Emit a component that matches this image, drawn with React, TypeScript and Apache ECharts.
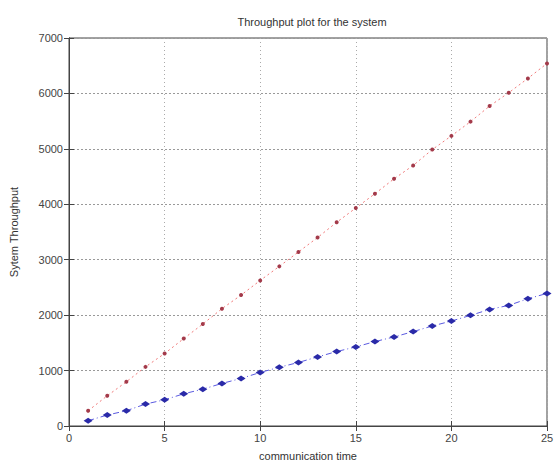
import React, { useEffect, useRef } from "react";
import * as echarts from "echarts";

const times = [1, 2, 3, 4, 5, 6, 7, 8, 9, 10, 11, 12, 13, 14, 15, 16, 17, 18, 19, 20, 21, 22, 23, 24, 25];
const redSeries = [275, 545, 797, 1067, 1307, 1577, 1840, 2117, 2362, 2626, 2880, 3140, 3400, 3675, 3933, 4190, 4460, 4700, 4987, 5234, 5491, 5773, 6013, 6271, 6541];
const blueSeries = [95, 198, 275, 396, 473, 581, 665, 768, 858, 966, 1060, 1146, 1247, 1343, 1427, 1523, 1607, 1703, 1804, 1894, 1996, 2104, 2176, 2296, 2392];

const titleText = "Throughput plot for the system";
const xName = "communication time";
const yName = "Sytem Throughput";

export default function App() {
  const ref = useRef<HTMLDivElement>(null);
  useEffect(() => {
    if (!ref.current) return;
    const chart = echarts.init(ref.current, null, { renderer: "svg" });
    const font = "Arial, 'Liberation Sans', sans-serif";
    const tick = { show: true, inside: true, length: 5, lineStyle: { color: "#444" } };
    chart.setOption({
      animation: false,
      backgroundColor: "#fff",
      title: {
        text: titleText,
        left: 307,
        textAlign: "center",
        top: 11,
        textStyle: { fontSize: 11, fontWeight: "normal", color: "#333", fontFamily: font },
      },
      grid: {
        left: 68,
        right: 10,
        top: 38,
        bottom: 39,
        show: true,
        borderColor: "#444",
        borderWidth: 1,
        backgroundColor: "transparent",
      },
      xAxis: [
        {
          type: "value",
          min: 0,
          max: 25,
          interval: 5,
          name: xName,
          nameLocation: "middle",
          nameGap: 24,
          nameTextStyle: { fontSize: 11, color: "#333", fontFamily: font },
          axisLine: { show: true, lineStyle: { color: "#444" } },
          axisTick: tick,
          axisLabel: { fontSize: 11, color: "#444", fontFamily: font, margin: 6 },
          splitLine: { show: true, lineStyle: { color: "#aaa", type: [1, 3], width: 1 } },
        },
        {
          type: "value",
          position: "top",
          min: 0,
          max: 25,
          interval: 5,
          axisLine: { show: true, lineStyle: { color: "#444" } },
          axisTick: tick,
          axisLabel: { show: false },
          splitLine: { show: false },
        },
      ],
      yAxis: [
        {
          type: "value",
          min: 0,
          max: 7000,
          interval: 1000,
          name: yName,
          nameLocation: "middle",
          nameGap: 50,
          nameTextStyle: { fontSize: 11, color: "#333", fontFamily: font },
          axisLine: { show: true, lineStyle: { color: "#444" } },
          axisTick: tick,
          axisLabel: { fontSize: 11, color: "#444", fontFamily: font, margin: 6, formatter: (v: number) => String(v) },
          splitLine: { show: true, lineStyle: { color: "#999", type: [2, 2], width: 1 } },
        },
        {
          type: "value",
          position: "right",
          min: 0,
          max: 7000,
          interval: 1000,
          axisLine: { show: true, lineStyle: { color: "#444" } },
          axisTick: tick,
          axisLabel: { show: false },
          splitLine: { show: false },
        },
      ],
      series: [
        {
          type: "line",
          data: times.map((t, i) => [t, redSeries[i]]),
          lineStyle: { color: "#f07a7a", width: 1, type: [2, 3] },
          symbol: "circle",
          symbolSize: 4,
          itemStyle: { color: "#a33a4a" },
        },
        {
          type: "line",
          data: times.map((t, i) => [t, blueSeries[i]]),
          lineStyle: { color: "#5a5ae0", width: 1, type: [6, 3, 1, 3] },
          symbol: "diamond",
          symbolSize: [9, 6],
          itemStyle: { color: "#2a2aa8" },
        },
      ],
    });
    return () => chart.dispose();
  }, []);
  return <div ref={ref} style={{ width: 557, height: 466, position: "absolute", left: 0, top: 0 }} />;
}
